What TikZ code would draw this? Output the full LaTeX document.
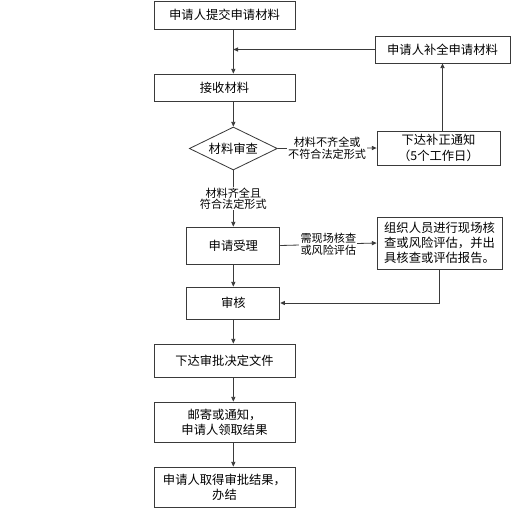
\documentclass[tikz,border=0pt]{standalone}
\usepackage{fontspec}
\usepackage{tikz}
\setmainfont{Noto Sans CJK SC}
\usetikzlibrary{arrows.meta, positioning, shapes.geometric, calc}
\definecolor{lngray}{HTML}{3A3A3A}

\begin{document}
\begin{tikzpicture}[
  every node/.style={font=\fontsize{10.5}{13}\selectfont, text=black},
  stepbox/.style={rectangle, draw=lngray, line width=0.7pt, fill=white, align=center, inner sep=1pt},
  checkbox/.style={diamond, draw=lngray, line width=0.7pt, fill=white, aspect=2, inner sep=0pt, minimum width=2.64cm, minimum height=1.29cm},
  lbl/.style={fill=white, align=center, inner sep=1pt, font=\fontsize{9.5}{9.5}\selectfont},
  arr/.style={-{Triangle[length=4pt,width=3.5pt]}, lngray, line width=0.7pt},
]
\useasboundingbox (0,0) rectangle (15.36,-15.33);

% Main column
\node[stepbox, minimum width=4.23cm, minimum height=0.84cm] (submit) at (6.735,-0.45) {申请人提交申请材料};
\node[stepbox, minimum width=4.23cm, minimum height=0.81cm] (receive) at (6.735,-2.625) {接收材料};
\node[checkbox] (check) at (7.0,-4.455) {材料审查};
\node[stepbox, minimum width=2.79cm, minimum height=1.11cm] (accept) at (7.0,-7.365) {申请受理};
\node[stepbox, minimum width=2.79cm, minimum height=0.96cm] (review) at (7.0,-9.09) {审核};
\node[stepbox, minimum width=4.23cm, minimum height=0.99cm] (decide) at (6.735,-10.815) {下达审批决定文件};
\node[stepbox, minimum width=4.23cm, minimum height=1.2cm] (mail) at (6.735,-12.66) {邮寄或通知，\\申请人领取结果};
\node[stepbox, minimum width=4.23cm, minimum height=1.2cm] (finish) at (6.735,-14.61) {申请人取得审批结果，\\办结};

% Right column
\node[stepbox, minimum width=4.05cm, minimum height=0.81cm] (supplement) at (13.275,-1.485) {申请人补全申请材料};
\node[stepbox, minimum width=3.69cm, minimum height=1.02cm] (notice) at (13.155,-4.44) {下达补正通知\\（5个工作日）};
\node[stepbox, minimum width=3.75cm, minimum height=1.56cm, align=left] (onsite) at (13.185,-7.29) {组织人员进行现场核\\查或风险评估，并出\\具核查或评估报告。};

% Connections
\draw[arr] (submit.south -| check) -- (receive.north -| check);
\draw[arr] (supplement.west) -- (supplement.west -| check);
\draw[arr] (receive.south -| check) -- (check.north);
\draw[arr] (check.east) -- node[lbl] (nolbl) {材料不齐全或\\不符合法定形式} (notice.west);
\draw[arr] (notice.north -| supplement.south) -- (supplement.south);
\draw[arr] (check.south) -- node[lbl] (yeslbl) {材料齐全且\\符合法定形式} (accept.north);
\draw[arr] (accept.east) -- node[lbl] (sitelbl) {需现场核查\\或风险评估} (onsite.west);
\draw[arr] (onsite.south) |- (review.east);
\draw[arr] (accept.south) -- (review.north);
\draw[arr] (review.south) -- (decide.north -| review);
\draw[arr] (decide.south -| review) -- (mail.north -| review);
\draw[arr] (mail.south -| review) -- (finish.north -| review);

\end{tikzpicture}
\end{document}
